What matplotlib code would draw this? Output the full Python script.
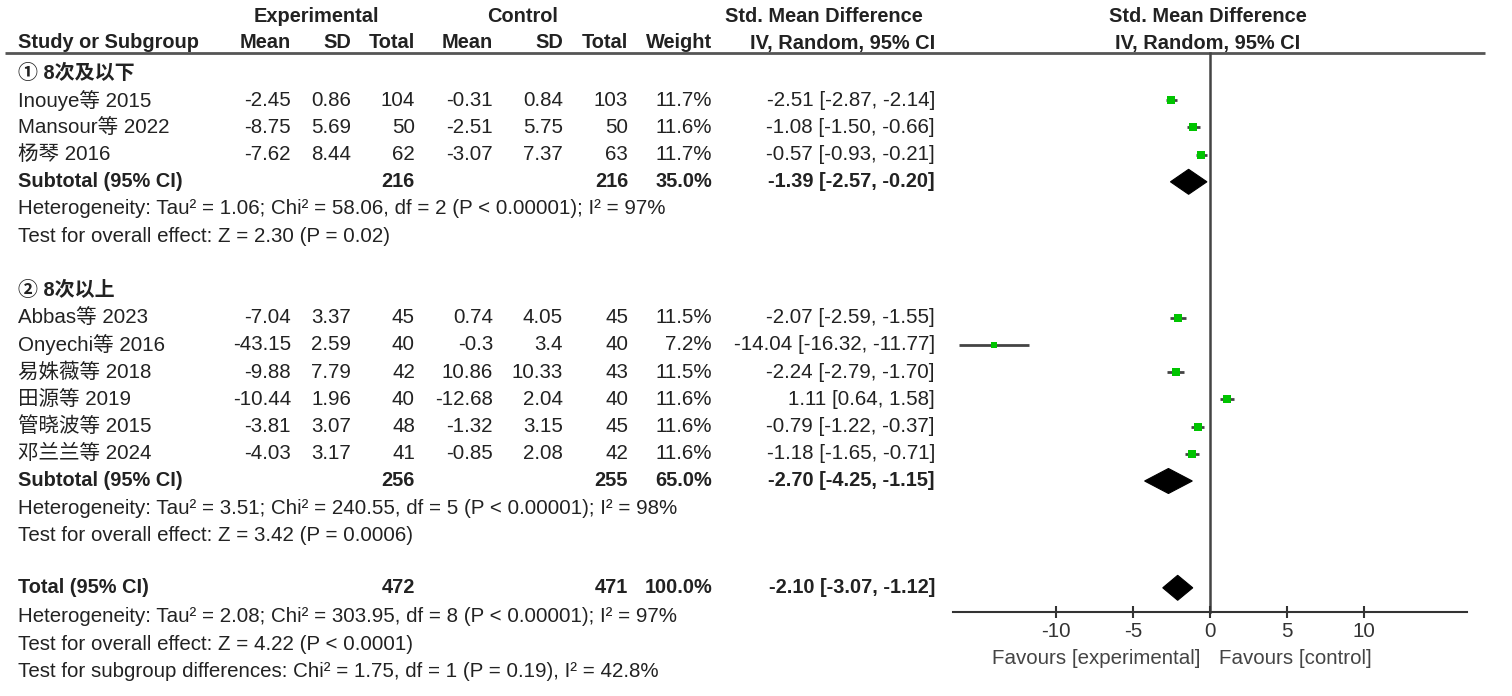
import matplotlib
matplotlib.use("Agg")
import matplotlib.pyplot as plt
from matplotlib.patches import Polygon
import numpy as np

plt.rcParams['font.family'] = ['Liberation Sans', 'Noto Sans CJK SC', 'DejaVu Sans']

# ---------------- data ----------------
group_titles = ["① 8次及以下", "② 8次以上"]

studies_g1 = ["Inouye等 2015", "Mansour等 2022", "杨琴 2016"]
exp_mean_g1 = ["-2.45", "-8.75", "-7.62"]
exp_sd_g1 = ["0.86", "5.69", "8.44"]
exp_n_g1 = [104, 50, 62]
ctl_mean_g1 = ["-0.31", "-2.51", "-3.07"]
ctl_sd_g1 = ["0.84", "5.75", "7.37"]
ctl_n_g1 = [103, 50, 63]
weight_g1 = [11.7, 11.6, 11.7]
smd_g1 = [-2.51, -1.08, -0.57]
lo_g1 = [-2.87, -1.50, -0.93]
hi_g1 = [-2.14, -0.66, -0.21]

studies_g2 = ["Abbas等 2023", "Onyechi等 2016", "易姝薇等 2018", "田源等 2019",
              "管晓波等 2015", "邓兰兰等 2024"]
exp_mean_g2 = ["-7.04", "-43.15", "-9.88", "-10.44", "-3.81", "-4.03"]
exp_sd_g2 = ["3.37", "2.59", "7.79", "1.96", "3.07", "3.17"]
exp_n_g2 = [45, 40, 42, 40, 48, 41]
ctl_mean_g2 = ["0.74", "-0.3", "10.86", "-12.68", "-1.32", "-0.85"]
ctl_sd_g2 = ["4.05", "3.4", "10.33", "2.04", "3.15", "2.08"]
ctl_n_g2 = [45, 40, 43, 40, 45, 42]
weight_g2 = [11.5, 7.2, 11.5, 11.6, 11.6, 11.6]
smd_g2 = [-2.07, -14.04, -2.24, 1.11, -0.79, -1.18]
lo_g2 = [-2.59, -16.32, -2.79, 0.64, -1.22, -1.65]
hi_g2 = [-1.55, -11.77, -1.70, 1.58, -0.37, -0.71]

sub_exp_n = [216, 256]
sub_ctl_n = [216, 255]
sub_weight = [35.0, 65.0]
sub_smd = [-1.39, -2.70]
sub_lo = [-2.57, -4.25]
sub_hi = [-0.20, -1.15]
sub_het = ["Heterogeneity: Tau² = 1.06; Chi² = 58.06, df = 2 (P < 0.00001); I² = 97%",
           "Heterogeneity: Tau² = 3.51; Chi² = 240.55, df = 5 (P < 0.00001); I² = 98%"]
sub_test = ["Test for overall effect: Z = 2.30 (P = 0.02)",
            "Test for overall effect: Z = 3.42 (P = 0.0006)"]

tot_exp_n = 472
tot_ctl_n = 471
tot_weight = 100.0
tot_smd = -2.10
tot_lo = -3.07
tot_hi = -1.12
tot_lines = ["Heterogeneity: Tau² = 2.08; Chi² = 303.95, df = 8 (P < 0.00001); I² = 97%",
             "Test for overall effect: Z = 4.22 (P < 0.0001)",
             "Test for subgroup differences: Chi² = 1.75, df = 1 (P = 0.19), I² = 42.8%"]

x_ticks = [-10, -5, 0, 5, 10]
x_lim = [-16.7, 16.7]
favours = ["Favours [experimental]", "Favours [control]"]

# ---------------- layout ----------------
W, H = 1512, 696
fig = plt.figure(figsize=(W / 100, H / 100), dpi=100)
at = fig.add_axes([0, 0, 1, 1])
at.set_xlim(0, W)
at.set_ylim(H, 0)
at.axis('off')

px_l, px_r = 953, 1467
af = fig.add_axes([px_l / W, 0, (px_r - px_l) / W, 1])
af.set_xlim(*x_lim)
af.set_ylim(H, 0)
af.patch.set_alpha(0)

TXT = '#222222'
FS = 14.8
FSB = 14.4
GREEN = '#00C400'

def rowy(i):
    return 73 + 27.2 * i

def txt(x, y, s, ha='right', bold=False, **kw):
    at.text(x, y, s, ha=ha, va='center', fontsize=FSB if bold else FS, color=TXT,
            fontweight='bold' if bold else 'normal', **kw)

# column right edges
c_study = 18
c_em, c_esd, c_en = 291, 351, 415
c_cm, c_csd, c_cn = 493, 563, 628
c_w, c_ci = 712, 935

# headers
txt(316, 16, "Experimental", ha='center', bold=True)
txt(523, 16, "Control", ha='center', bold=True)
txt(824, 16, "Std. Mean Difference", ha='center', bold=True)
txt(1208, 16, "Std. Mean Difference", ha='center', bold=True)
txt(c_study, 43, "Study or Subgroup", ha='left', bold=True)
for x, s in [(c_em, "Mean"), (c_esd, "SD"), (c_en, "Total"), (c_cm, "Mean"),
             (c_csd, "SD"), (c_cn, "Total"), (c_w, "Weight"), (c_ci, "IV, Random, 95% CI")]:
    txt(x, 43, s, bold=True)
txt(1208, 43, "IV, Random, 95% CI", ha='center', bold=True)
at.plot([5, 1485], [53, 53], color='#555555', lw=2, solid_capstyle='butt')

def ci_str(m, l, h):
    return f"{m:.2f} [{l:.2f}, {h:.2f}]"

groups = [
    (studies_g1, exp_mean_g1, exp_sd_g1, exp_n_g1, ctl_mean_g1, ctl_sd_g1, ctl_n_g1,
     weight_g1, smd_g1, lo_g1, hi_g1),
    (studies_g2, exp_mean_g2, exp_sd_g2, exp_n_g2, ctl_mean_g2, ctl_sd_g2, ctl_n_g2,
     weight_g2, smd_g2, lo_g2, hi_g2),
]

def diamond(y, m, l, h, half=12.5):
    af.add_patch(Polygon([[l, y], [m, y - half], [h, y], [m, y + half]],
                         closed=True, facecolor='black', edgecolor='black', lw=0.8))

row = 0
for gi, g in enumerate(groups):
    (st, em, esd, en, cm, csd, cn, w, smd, lo, hi) = g
    txt(c_study, rowy(row), group_titles[gi], ha='left', bold=True)
    row += 1
    for k in range(len(st)):
        y = rowy(row)
        txt(c_study, y, st[k], ha='left')
        txt(c_em, y, em[k]); txt(c_esd, y, esd[k]); txt(c_en, y, str(en[k]))
        txt(c_cm, y, cm[k]); txt(c_csd, y, csd[k]); txt(c_cn, y, str(cn[k]))
        txt(c_w, y, f"{w[k]:.1f}%")
        txt(c_ci, y, ci_str(smd[k], lo[k], hi[k]))
        af.plot([lo[k], hi[k]], [y, y], color='#444444', lw=2, solid_capstyle='butt', zorder=2)
        af.plot([smd[k]], [y], marker='s', color=GREEN, markersize=1.8 * np.sqrt(w[k]),
                markeredgewidth=0, zorder=3)
        row += 1
    y = rowy(row)
    txt(c_study, y, "Subtotal (95% CI)", ha='left', bold=True)
    txt(c_en, y, str(sub_exp_n[gi]), bold=True)
    txt(c_cn, y, str(sub_ctl_n[gi]), bold=True)
    txt(c_w, y, f"{sub_weight[gi]:.1f}%", bold=True)
    txt(c_ci, y, ci_str(sub_smd[gi], sub_lo[gi], sub_hi[gi]), bold=True)
    diamond(y, sub_smd[gi], sub_lo[gi], sub_hi[gi])
    row += 1
    txt(c_study, rowy(row), sub_het[gi], ha='left'); row += 1
    txt(c_study, rowy(row), sub_test[gi], ha='left'); row += 1
    row += 1

y = rowy(row) - 2
txt(c_study, y, "Total (95% CI)", ha='left', bold=True)
txt(c_en, y, str(tot_exp_n), bold=True)
txt(c_cn, y, str(tot_ctl_n), bold=True)
txt(c_w, y, f"{tot_weight:.1f}%", bold=True)
txt(c_ci, y, ci_str(tot_smd, tot_lo, tot_hi), bold=True)
diamond(y, tot_smd, tot_lo, tot_hi)
row += 1
for s in tot_lines:
    txt(c_study, rowy(row), s, ha='left'); row += 1

# forest axis
axis_y = 612
af.plot([0, 0], [53, axis_y], color='#444444', lw=1.8, zorder=1)
for sp in ['top', 'left', 'right']:
    af.spines[sp].set_visible(False)
af.spines['bottom'].set_position(('data', axis_y))
af.spines['bottom'].set_color('#333333')
af.spines['bottom'].set_linewidth(1.5)
af.set_yticks([])
af.set_xticks(x_ticks)
af.set_xticklabels([str(t) for t in x_ticks])
af.tick_params(axis='x', direction='inout', length=9, width=1.5, color='#333333',
               labelsize=FS, labelcolor='#333333', pad=3)
at.text(1200, 658, favours[0], ha='right', va='center', fontsize=FS, color='#444444')
at.text(1219, 658, favours[1], ha='left', va='center', fontsize=FS, color='#444444')

fig.savefig("out.png", dpi=100)
